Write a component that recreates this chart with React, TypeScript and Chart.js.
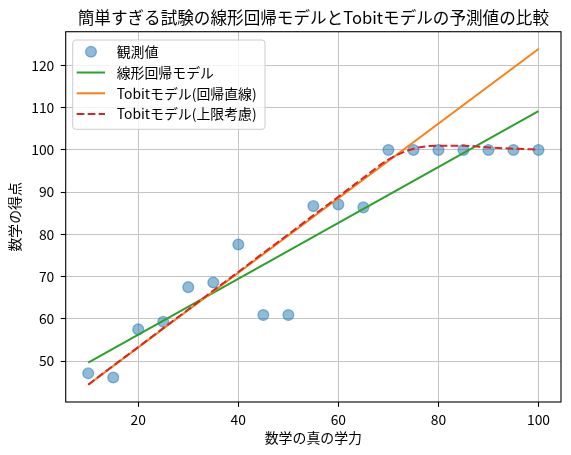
import { useEffect, useRef } from 'react';
import { Chart, registerables } from 'chart.js';

Chart.register(...registerables);

const chartTitle = '簡単すぎる試験の線形回帰モデルとTobitモデルの予測値の比較';
const xAxisLabel = '数学の真の学力';
const yAxisLabel = '数学の得点';
const seriesLabels = ['観測値', '線形回帰モデル', 'Tobitモデル(回帰直線)', 'Tobitモデル(上限考慮)'];

const abilities = [10, 15, 20, 25, 30, 35, 40, 45, 50, 55, 60, 65, 70, 75, 80, 85, 90, 95, 100];
const observed = [47.1, 46.1, 57.5, 59.3, 67.5, 68.6, 77.6, 60.9, 60.9, 86.7, 87.1, 86.4, 100, 100, 100, 100, 100, 100, 100];
const lineEnds = [10, 100];
const linearPred = [49.6, 109.2];
const tobitLinePred = [44.4, 123.9];
const tobitCensoredPred = [44.4, 48.9, 53.3, 57.8, 62.2, 66.7, 71.1, 75.6, 80.0, 84.5, 88.9, 93.4, 97.7, 100.3, 101.0, 101.0, 100.6, 100.3, 100.1];

const xTicks = [20, 40, 60, 80, 100];
const yTicks = [50, 60, 70, 80, 90, 100, 110, 120];

const FONT = "'Noto Sans CJK JP', 'Noto Sans', 'DejaVu Sans', sans-serif";

const toPoints = (xs: number[], ys: number[]) => xs.map((x, i) => ({ x, y: ys[i] }));

const spinePlugin = {
  id: 'spines',
  afterDatasetsDraw(chart: any) {
    const { ctx, chartArea } = chart;
    ctx.save();
    ctx.strokeStyle = '#000';
    ctx.lineWidth = 1.1;
    ctx.strokeRect(chartArea.left, chartArea.top, chartArea.right - chartArea.left, chartArea.bottom - chartArea.top);
    ctx.restore();
  },
};

const legendPlugin = {
  id: 'mplLegend',
  afterDraw(chart: any) {
    const { ctx } = chart;
    const datasets = chart.data.datasets;
    ctx.save();
    const bx = 72.7, by = 40, bw = 192.3, bh = 89.3;
    ctx.beginPath();
    (ctx as any).roundRect(bx, by, bw, bh, 3);
    ctx.fillStyle = 'rgba(255,255,255,0.8)';
    ctx.fill();
    ctx.strokeStyle = '#cccccc';
    ctx.lineWidth = 1;
    ctx.stroke();
    const rowY = [51.7, 72.5, 93.3, 114.1];
    const order = [0, 1, 2, 3];
    order.forEach((di, row) => {
      const ds = datasets[di];
      const y = rowY[row];
      if (di === 0) {
        ctx.beginPath();
        ctx.arc(91, y, ds.pointRadius, 0, Math.PI * 2);
        ctx.fillStyle = ds.backgroundColor;
        ctx.fill();
        ctx.lineWidth = ds.borderWidth;
        ctx.strokeStyle = ds.borderColor;
        ctx.stroke();
      } else {
        ctx.beginPath();
        ctx.setLineDash(ds.borderDash || []);
        ctx.moveTo(76.7, y);
        ctx.lineTo(105, y);
        ctx.strokeStyle = ds.borderColor;
        ctx.lineWidth = ds.borderWidth;
        ctx.stroke();
        ctx.setLineDash([]);
      }
      ctx.fillStyle = '#000';
      ctx.font = `13.9px ${FONT}`;
      ctx.textBaseline = 'middle';
      ctx.textAlign = 'left';
      ctx.fillText(ds.label, 116.7, y);
    });
    ctx.restore();
  },
};

export default function App() {
  const ref = useRef<HTMLCanvasElement>(null);

  useEffect(() => {
    if (!ref.current) return;
    const chart = new Chart(ref.current, {
      type: 'scatter',
      data: {
        datasets: [
          {
            label: seriesLabels[0],
            data: toPoints(abilities, observed),
            backgroundColor: 'rgba(31,119,180,0.5)',
            borderColor: 'rgba(31,119,180,0.5)',
            borderWidth: 1.3,
            pointRadius: 5.4,
            order: 4,
          },
          {
            label: seriesLabels[1],
            data: toPoints(lineEnds, linearPred),
            showLine: true,
            borderColor: '#2ca02c',
            backgroundColor: '#2ca02c',
            borderWidth: 2,
            pointRadius: 0,
            order: 3,
          },
          {
            label: seriesLabels[2],
            data: toPoints(lineEnds, tobitLinePred),
            showLine: true,
            borderColor: '#ff7f0e',
            backgroundColor: '#ff7f0e',
            borderWidth: 2,
            pointRadius: 0,
            order: 2,
          },
          {
            label: seriesLabels[3],
            data: toPoints(abilities, tobitCensoredPred),
            showLine: true,
            borderColor: '#d62728',
            backgroundColor: '#d62728',
            borderWidth: 2,
            borderDash: [7.7, 3.3],
            cubicInterpolationMode: 'monotone',
            pointRadius: 0,
            order: 1,
          },
        ] as any,
      },
      options: {
        animation: false,
        responsive: false,
        events: [],
        layout: { padding: { left: 0, right: 10, top: 0, bottom: 0 } },
        plugins: {
          legend: { display: false },
          tooltip: { enabled: false },
          title: {
            display: true,
            fullSize: false,
            text: chartTitle,
            color: '#000',
            font: { family: FONT, size: 16.6, weight: 'normal', lineHeight: 1.2 },
            padding: { top: 8, bottom: 3.8 },
          },
        },
        scales: {
          x: {
            type: 'linear',
            min: 5.5,
            max: 104.5,
            afterBuildTicks: (scale: any) => {
              scale.ticks = xTicks.map((value) => ({ value }));
            },
            afterFit: (scale: any) => {
              scale.height = 53;
            },
            ticks: {
              autoSkip: false,
              maxRotation: 0,
              padding: 4,
              color: '#000',
              font: { family: FONT, size: 13.9 },
              callback: (v: any) => String(v),
            },
            grid: {
              color: '#c4c4c4',
              lineWidth: 1,
              tickColor: '#000',
              tickLength: 4.9,
              tickWidth: 1.1,
            },
            border: { display: false },
            title: {
              display: true,
              text: xAxisLabel,
              color: '#000',
              font: { family: FONT, size: 13.9, lineHeight: 1.2 },
              padding: { top: 0, bottom: 8.95 },
            },
          },
          y: {
            type: 'linear',
            min: 40.3,
            max: 128.0,
            afterBuildTicks: (scale: any) => {
              scale.ticks = yTicks.map((value) => ({ value }));
            },
            afterFit: (scale: any) => {
              scale.width = 65.7;
            },
            ticks: {
              autoSkip: false,
              padding: 6.5,
              color: '#000',
              font: { family: FONT, size: 13.9 },
              callback: (v: any) => String(v),
            },
            grid: {
              color: '#c4c4c4',
              lineWidth: 1,
              tickColor: '#000',
              tickLength: 4.9,
              tickWidth: 1.1,
            },
            border: { display: false },
            title: {
              display: true,
              text: yAxisLabel,
              color: '#000',
              font: { family: FONT, size: 13.9, lineHeight: 1.2 },
              padding: { top: 6.65, bottom: 0 },
            },
          },
        },
      },
      plugins: [spinePlugin, legendPlugin],
    } as any);
    return () => chart.destroy();
  }, []);

  return (
    <div style={{ position: 'fixed', left: 0, top: 0, width: 571, height: 455, background: '#fff' }}>
      <canvas ref={ref} width={571} height={455} style={{ display: 'block', width: 571, height: 455 }} />
    </div>
  );
}
